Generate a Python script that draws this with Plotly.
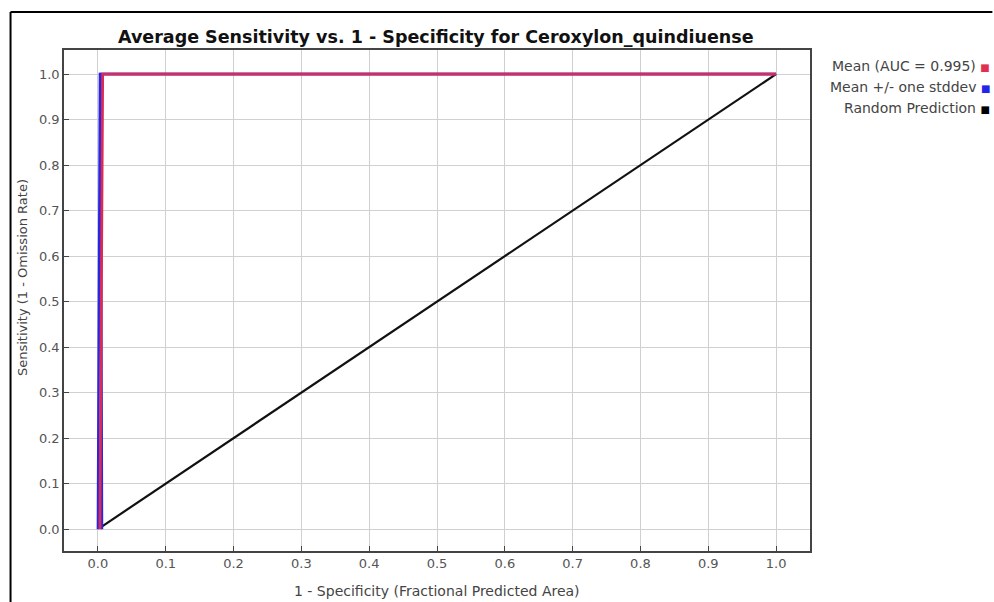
import plotly.graph_objects as go

# Data
mean_x = [0.003, 0.007, 1.0]
mean_y = [0.0, 1.0, 1.0]
std_hi_x = [0.0, 0.003, 1.0]
std_hi_y = [0.0, 1.0, 1.0]
std_lo_x = [0.006, 0.004, 1.0]
std_lo_y = [0.0, 1.0, 1.0]
rand_x = [0.003, 1.0]
rand_y = [0.003, 1.0]
tick_vals = [0.0, 0.1, 0.2, 0.3, 0.4, 0.5, 0.6, 0.7, 0.8, 0.9, 1.0]
tick_text = ["0.0", "0.1", "0.2", "0.3", "0.4", "0.5", "0.6", "0.7", "0.8", "0.9", "1.0"]
legend_items = [("Mean (AUC = 0.995)", "#e0304f"),
                ("Mean +/- one stddev", "#2424e8"),
                ("Random Prediction", "#000000")]

RED = "#dc2a52"
BLUE = "#2626e6"
FONT = "DejaVu Sans, Verdana, sans-serif"

fig = go.Figure()
fig.add_trace(go.Scatter(x=rand_x, y=rand_y, mode="lines",
                         line=dict(color="#111111", width=2.2), hoverinfo="skip"))
fig.add_trace(go.Scatter(x=std_lo_x, y=std_lo_y, mode="lines",
                         line=dict(color=BLUE, width=2.5), hoverinfo="skip"))
fig.add_trace(go.Scatter(x=std_hi_x, y=std_hi_y, mode="lines",
                         line=dict(color=BLUE, width=2.5), hoverinfo="skip"))
fig.add_trace(go.Scatter(x=mean_x, y=mean_y, mode="lines",
                         line=dict(color=RED, width=2.8), hoverinfo="skip"))

W, H = 994, 602
L, R, T, B = 64, 183.5, 50, 51
pw = W - L - R
ph = H - T - B

axis_common = dict(
    tickvals=tick_vals, ticktext=tick_text,
    showgrid=True, gridcolor="#d0d0d0", gridwidth=1,
    zeroline=False, showline=True, linecolor="#444444", linewidth=1.5,
    mirror=True, ticks="inside", ticklen=5, tickcolor="#444444",
    tickfont=dict(family=FONT, size=13, color="#555555"),
)

fig.update_layout(
    width=W, height=H,
    margin=dict(l=L, r=R, t=T, b=B),
    paper_bgcolor="white", plot_bgcolor="white",
    showlegend=False,
    xaxis=dict(range=[-0.05, 1.05], **axis_common),
    yaxis=dict(range=[-0.048, 1.053], **axis_common),
)

# title
fig.add_annotation(text="<b>Average Sensitivity vs. 1 - Specificity for Ceroxylon_quindiuense</b>",
                   xref="paper", yref="paper", x=(436 - L) / pw, y=1 + (T - 37) / ph,
                   xanchor="center", yanchor="middle", showarrow=False,
                   font=dict(family=FONT, size=17.5, color="#111111"))
# axis titles
fig.add_annotation(text="1 - Specificity (Fractional Predicted Area)",
                   xref="paper", yref="paper", x=(437 - L) / pw, y=-(591 - (T + ph)) / ph,
                   xanchor="center", yanchor="middle", showarrow=False,
                   font=dict(family=FONT, size=14, color="#444444"))
fig.add_annotation(text="Sensitivity (1 - Omission Rate)",
                   xref="paper", yref="paper", x=-(L - 22) / pw, y=1 - (278 - T) / ph,
                   textangle=-90,
                   xanchor="center", yanchor="middle", showarrow=False,
                   font=dict(family=FONT, size=13, color="#444444"))

# legend (right-aligned text with color squares)
for i, (label, col) in enumerate(legend_items):
    ypix = 66 + 21 * i
    fig.add_annotation(text=label + " <span style='color:%s;font-size:10px'>■</span>" % col,
                       xref="paper", yref="paper", x=(993 - L) / pw, y=1 - (ypix - T) / ph,
                       xanchor="right", yanchor="middle", showarrow=False,
                       font=dict(family=FONT, size=14, color="#444444"))

# outer frame lines (left and top)
fig.add_shape(type="line", xref="paper", yref="paper",
              x0=(10.5 - L) / pw, x1=(10.5 - L) / pw,
              y0=-(H - T - ph + 5) / ph, y1=1 + (T - 12) / ph,
              line=dict(color="black", width=2))
fig.add_shape(type="line", xref="paper", yref="paper",
              x0=(10.5 - L) / pw, x1=(993 - L) / pw,
              y0=1 + (T - 12) / ph, y1=1 + (T - 12) / ph,
              line=dict(color="black", width=2))

fig.write_html("out.html")
